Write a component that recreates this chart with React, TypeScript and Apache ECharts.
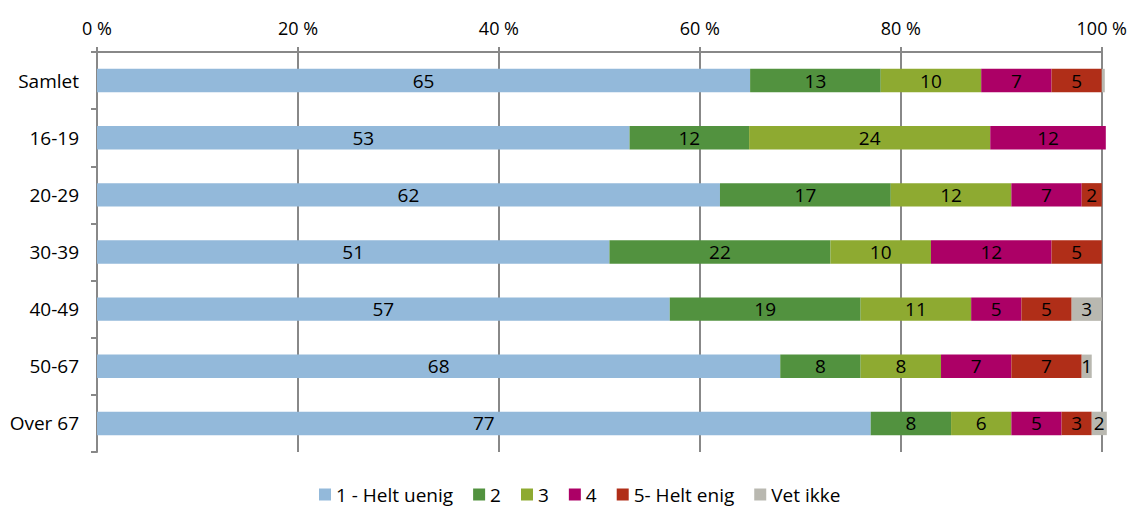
import React, { useEffect, useRef } from "react";
import * as echarts from "echarts";

const categories = ["Samlet", "16-19", "20-29", "30-39", "40-49", "50-67", "Over 67"];
const seriesNames = ["1 - Helt uenig", "2", "3", "4", "5- Helt enig", "Vet ikke"];
const s1 = [65, 53, 62, 51, 57, 68, 77];
const s2 = [13, 11.9, 17, 22, 19, 8, 8];
const s3 = [10, 24, 12, 10, 11, 8, 6];
const s4 = [7, 11.5, 7, 12, 5, 7, 5];
const s5 = [5, 0, 2, 5, 5, 7, 3];
const s6 = [0.3, 0, 0, 0, 3, 1, 1.5];
const colors = ["#93b9da", "#52923f", "#8eaa31", "#ac0066", "#b02e18", "#b9b8b0"];
const xTicks = [0, 20, 40, 60, 80, 100];

const FONT = "'Open Sans', 'Noto Sans', sans-serif";

export default function App() {
  const ref = useRef<HTMLDivElement>(null);
  useEffect(() => {
    document.body.style.margin = "0";
    const chart = echarts.init(ref.current!, null, { renderer: "svg" });
    const all = [s1, s2, s3, s4, s5, s6];
    chart.setOption({
      animation: false,
      textStyle: { fontFamily: FONT },
      grid: { left: 97, right: 28, top: 52, bottom: 59, containLabel: false },
      legend: {
        top: 485,
        left: 319,
        itemWidth: 12,
        itemHeight: 12,
        itemGap: 20,
        icon: "rect",
        padding: 0,
        textStyle: { fontSize: 19, color: "#000", fontFamily: FONT },
        data: seriesNames,
      },
      xAxis: {
        type: "value",
        position: "top",
        min: xTicks[0],
        max: xTicks[xTicks.length - 1],
        interval: 20,
        axisLabel: { formatter: "{value} %", fontSize: 18, color: "#000", margin: 15 },
        axisLine: { show: true, lineStyle: { color: "#888", width: 2 } },
        axisTick: { show: true, length: 5, lineStyle: { color: "#888", width: 2 } },
        splitLine: { show: true, lineStyle: { color: "#888", width: 2 } },
      },
      yAxis: {
        type: "category",
        inverse: true,
        data: categories,
        axisLabel: { fontSize: 19, color: "#000", margin: 18 },
        axisLine: { show: true, lineStyle: { color: "#888", width: 2 } },
        axisTick: { show: true, length: 6, lineStyle: { color: "#888", width: 2 } },
      },
      series: seriesNames.map((name, i) => ({
        name,
        type: "bar",
        stack: "total",
        barWidth: "41%",
        clip: false,
        itemStyle: { color: colors[i] },
        label: {
          show: true,
          position: "inside",
          color: "#000",
          fontSize: 19,
          fontFamily: FONT,
          formatter: (p: any) => (p.value >= 0.5 ? String(Math.round(p.value)) : ""),
        },
        data: all[i],
      })),
    });
    return () => chart.dispose();
  }, []);
  return <div ref={ref} style={{ width: 1130, height: 511, position: "absolute", left: 0, top: 0 }} />;
}
